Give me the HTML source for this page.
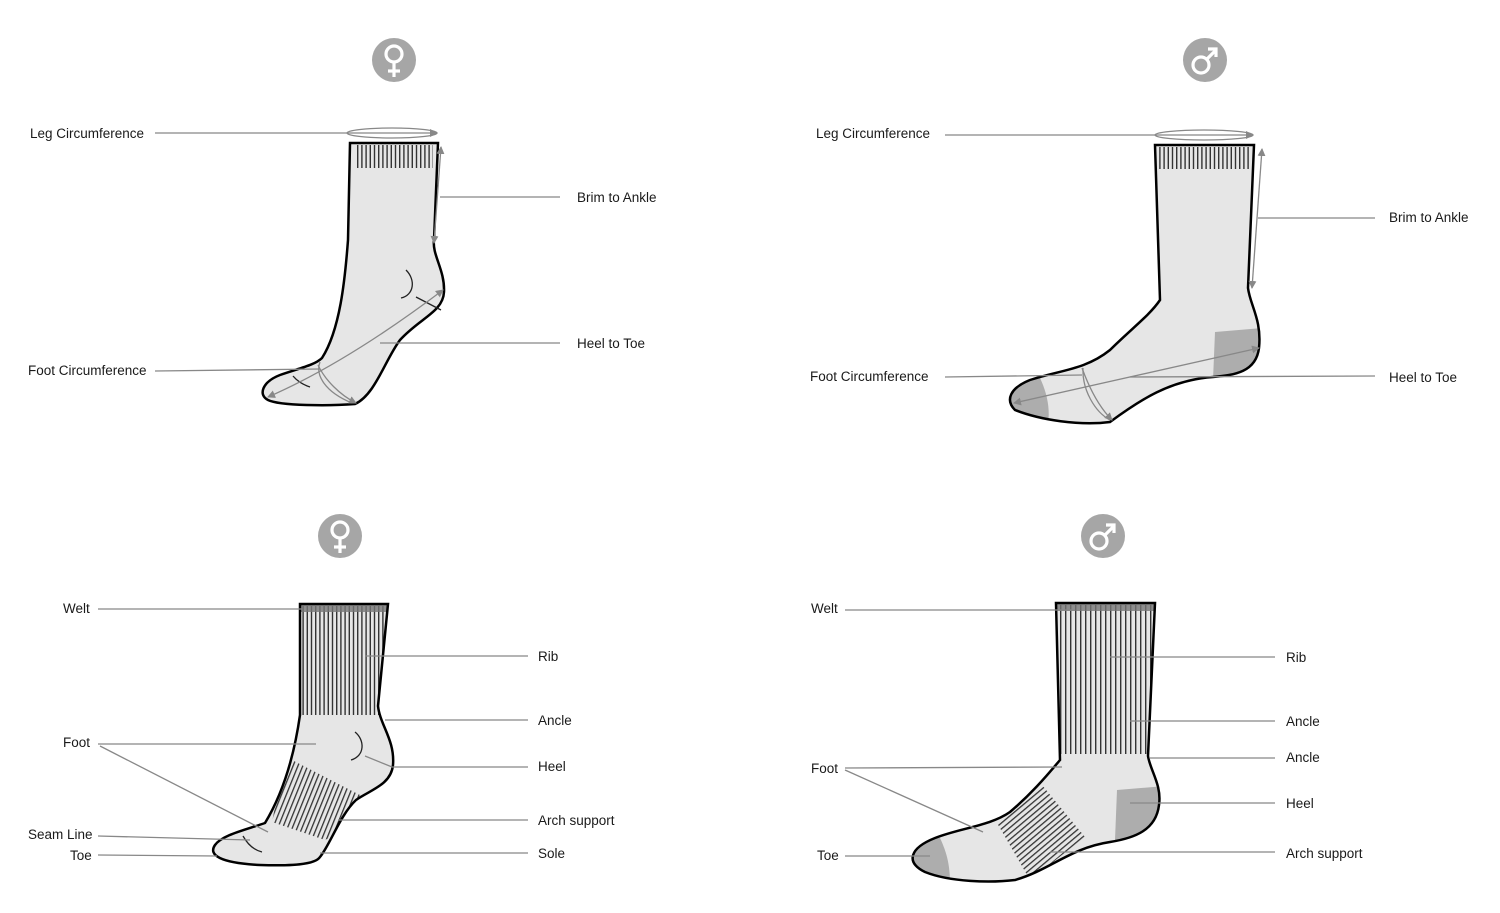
<!DOCTYPE html>
<html><head><meta charset="utf-8"><style>
html,body{margin:0;padding:0;background:#fff;}
svg{display:block;}
text{font-family:"Liberation Sans",sans-serif;font-size:13.5px;fill:#1a1a1a;}
</style></head><body>
<svg width="1500" height="913" viewBox="0 0 1500 913" xmlns="http://www.w3.org/2000/svg">
<defs>
<pattern id="rib" patternUnits="userSpaceOnUse" width="4.2" height="10"><rect x="0" y="0" width="1.4" height="10" fill="#333"/></pattern>
<pattern id="rib2" patternUnits="userSpaceOnUse" width="5" height="10"><rect x="0" y="0" width="1.4" height="10" fill="#333"/></pattern>
<pattern id="arch1" patternUnits="userSpaceOnUse" width="4.5" height="10" patternTransform="rotate(22)"><rect x="0" y="0" width="1.3" height="10" fill="#333"/></pattern>
<pattern id="arch2" patternUnits="userSpaceOnUse" width="4.5" height="10" patternTransform="rotate(50)"><rect x="0" y="0" width="1.3" height="10" fill="#333"/></pattern>
<marker id="ah" markerWidth="8" markerHeight="8" refX="7" refY="4" orient="auto-start-reverse" markerUnits="userSpaceOnUse"><path d="M0,0 L8,4 L0,8 Z" fill="#888"/></marker>
<clipPath id="c1"><path d="M350,143 L438,143 L434,240 C432,255 445,270 444,292 C443,312 420,318 400,340 C385,360 375,395 355,404 C330,406 280,406 268,400 C258,395 262,382 280,375 C300,368 315,365 322,358 C340,330 345,280 348,240 Z"/></clipPath>
<clipPath id="c2"><path d="M1155,145 L1254,145 L1248,288 C1250,305 1262,320 1259,348 C1256,372 1235,375 1213,377 C1170,380 1140,400 1110,422 C1080,426 1040,420 1015,410 C1005,400 1010,388 1030,380 C1060,370 1085,370 1110,350 C1130,330 1150,315 1160,300 Z"/></clipPath>
<clipPath id="c3"><path d="M300,604 L388,604 L378,706 C380,725 395,740 393,765 C391,785 370,790 356,800 C340,815 330,845 320,857 C315,865 290,866 260,865 C220,863 208,855 215,845 C222,835 245,830 265,823 C285,790 295,750 300,715 Z"/></clipPath>
<clipPath id="c4"><path d="M1056,603 L1155,603 L1148,756 C1150,770 1162,785 1159,805 C1156,830 1135,838 1110,842 C1070,848 1050,870 1015,880 C990,883 950,882 925,872 C905,862 910,848 935,838 C960,828 990,826 1010,812 C1030,795 1045,778 1060,760 Z"/></clipPath>
</defs>

<g fill="#a6a6a6"><circle cx="394" cy="60" r="22"/><circle cx="1205" cy="60" r="22"/><circle cx="340" cy="536" r="22"/><circle cx="1103" cy="536" r="22"/></g>
<g stroke="#fff" stroke-width="3.2" fill="none">
<circle cx="394" cy="54" r="8"/><line x1="394" y1="62" x2="394" y2="77"/><line x1="388" y1="71" x2="400" y2="71"/>
<circle cx="340" cy="530" r="8"/><line x1="340" y1="538" x2="340" y2="553"/><line x1="334" y1="547" x2="346" y2="547"/>
<circle cx="1201" cy="65" r="8"/><line x1="1207" y1="59" x2="1216" y2="50"/><polyline points="1208,49 1216,49 1216,57"/>
<circle cx="1099" cy="541" r="8"/><line x1="1105" y1="535" x2="1114" y2="526"/><polyline points="1106,525 1114,525 1114,533"/>
</g>

<!-- Sock 1 -->
<path d="M350,143 L438,143 L434,240 C432,255 445,270 444,292 C443,312 420,318 400,340 C385,360 375,395 355,404 C330,406 280,406 268,400 C258,395 262,382 280,375 C300,368 315,365 322,358 C340,330 345,280 348,240 Z" fill="#e6e6e6"/>
<rect x="355" y="145" width="78" height="23" fill="url(#rib)" clip-path="url(#c1)"/>
<path d="M350,143 L438,143 L434,240 C432,255 445,270 444,292 C443,312 420,318 400,340 C385,360 375,395 355,404 C330,406 280,406 268,400 C258,395 262,382 280,375 C300,368 315,365 322,358 C340,330 345,280 348,240 Z" fill="none" stroke="#000" stroke-width="2.5"/>
<g stroke="#222" stroke-width="1.3" fill="none"><path d="M406,270 C416,280 414,295 401,298"/><path d="M293,376 C298,382 304,385 310,387"/><line x1="416" y1="297" x2="441" y2="310"/></g>
<g stroke="#888" stroke-width="1.3" fill="none">
<ellipse cx="392" cy="133" rx="45" ry="5"/>
<line x1="155" y1="133" x2="437" y2="133" marker-end="url(#ah)"/>
<line x1="441" y1="147" x2="434" y2="243" marker-start="url(#ah)" marker-end="url(#ah)"/>
<line x1="440" y1="197" x2="560" y2="197"/>
<path d="M268,397 C330,370 390,330 443,290" marker-start="url(#ah)" marker-end="url(#ah)"/>
<line x1="380" y1="343" x2="560" y2="343"/>
<path d="M318,365 C325,380 340,395 356,403" marker-end="url(#ah)"/><path d="M320,362 C315,375 325,392 352,403"/>
<line x1="155" y1="371" x2="320" y2="369"/>
</g>
<text x="30" y="138">Leg Circumference</text>
<text x="577" y="202">Brim to Ankle</text>
<text x="577" y="348">Heel to Toe</text>
<text x="28" y="375">Foot Circumference</text>

<!-- Sock 2 -->
<path d="M1155,145 L1254,145 L1248,288 C1250,305 1262,320 1259,348 C1256,372 1235,375 1213,377 C1170,380 1140,400 1110,422 C1080,426 1040,420 1015,410 C1005,400 1010,388 1030,380 C1060,370 1085,370 1110,350 C1130,330 1150,315 1160,300 Z" fill="#e6e6e6"/>
<g clip-path="url(#c2)">
<rect x="1158" y="147" width="93" height="22" fill="url(#rib)"/>
<path d="M1215,332 L1262,328 L1262,380 L1213,380 Z" fill="#adadad"/>
<path d="M1000,370 L1040,378 C1048,395 1050,410 1048,425 L1000,425 Z" fill="#adadad"/>
</g>
<path d="M1155,145 L1254,145 L1248,288 C1250,305 1262,320 1259,348 C1256,372 1235,375 1213,377 C1170,380 1140,400 1110,422 C1080,426 1040,420 1015,410 C1005,400 1010,388 1030,380 C1060,370 1085,370 1110,350 C1130,330 1150,315 1160,300 Z" fill="none" stroke="#000" stroke-width="2.5"/>
<g stroke="#888" stroke-width="1.3" fill="none">
<ellipse cx="1204" cy="135" rx="49" ry="5"/>
<line x1="945" y1="135" x2="1253" y2="135" marker-end="url(#ah)"/>
<line x1="1262" y1="149" x2="1252" y2="288" marker-start="url(#ah)" marker-end="url(#ah)"/>
<line x1="1258" y1="218" x2="1375" y2="218"/>
<line x1="1014" y1="403" x2="1259" y2="348" marker-start="url(#ah)" marker-end="url(#ah)"/>
<line x1="1130" y1="377" x2="1375" y2="376"/>
<path d="M1082,368 C1090,390 1100,408 1112,420" marker-end="url(#ah)"/><path d="M1083,368 C1082,390 1095,412 1110,420"/>
<line x1="945" y1="377" x2="1082" y2="375"/>
</g>
<text x="816" y="138">Leg Circumference</text>
<text x="1389" y="222">Brim to Ankle</text>
<text x="1389" y="382">Heel to Toe</text>
<text x="810" y="381">Foot Circumference</text>

<!-- Sock 3 -->
<path d="M300,604 L388,604 L378,706 C380,725 395,740 393,765 C391,785 370,790 356,800 C340,815 330,845 320,857 C315,865 290,866 260,865 C220,863 208,855 215,845 C222,835 245,830 265,823 C285,790 295,750 300,715 Z" fill="#e6e6e6"/>
<g clip-path="url(#c3)">
<rect x="300" y="606" width="88" height="109" fill="url(#rib)"/>
<rect x="300" y="604" width="88" height="8" fill="#777" opacity="0.8"/>
<path d="M285,757 L292,760 L360,795 L345,830 L325,840 L272,822 Z" fill="url(#arch1)"/>
</g>
<path d="M300,604 L388,604 L378,706 C380,725 395,740 393,765 C391,785 370,790 356,800 C340,815 330,845 320,857 C315,865 290,866 260,865 C220,863 208,855 215,845 C222,835 245,830 265,823 C285,790 295,750 300,715 Z" fill="none" stroke="#000" stroke-width="2.5"/>
<g stroke="#222" stroke-width="1.3" fill="none"><path d="M355,732 C365,740 365,756 351,760"/><path d="M243,836 C248,845 254,850 262,852"/></g>
<g stroke="#888" stroke-width="1.3" fill="none">
<line x1="98" y1="609" x2="302" y2="609"/>
<line x1="365" y1="656" x2="528" y2="656"/>
<line x1="385" y1="720" x2="528" y2="720"/>
<polyline points="365,756 392,767 528,767"/>
<line x1="338" y1="820" x2="528" y2="820"/>
<line x1="320" y1="853" x2="528" y2="853"/>
<line x1="98" y1="744" x2="316" y2="744"/>
<line x1="100" y1="746" x2="268" y2="832"/>
<line x1="98" y1="836" x2="250" y2="840"/>
<line x1="98" y1="855" x2="217" y2="856"/>
</g>
<text x="63" y="613">Welt</text>
<text x="538" y="661">Rib</text>
<text x="538" y="725">Ancle</text>
<text x="538" y="771">Heel</text>
<text x="538" y="825">Arch support</text>
<text x="538" y="858">Sole</text>
<text x="63" y="747">Foot</text>
<text x="28" y="839">Seam Line</text>
<text x="70" y="860">Toe</text>

<!-- Sock 4 -->
<path d="M1056,603 L1155,603 L1148,756 C1150,770 1162,785 1159,805 C1156,830 1135,838 1110,842 C1070,848 1050,870 1015,880 C990,883 950,882 925,872 C905,862 910,848 935,838 C960,828 990,826 1010,812 C1030,795 1045,778 1060,760 Z" fill="#e6e6e6"/>
<g clip-path="url(#c4)">
<rect x="1058" y="605" width="96" height="149" fill="url(#rib2)"/>
<rect x="1056" y="603" width="100" height="8" fill="#777" opacity="0.8"/>
<path d="M1117,790 L1165,786 L1165,840 L1115,840 Z" fill="#adadad"/>
<path d="M900,830 L940,838 C948,855 950,868 950,885 L900,885 Z" fill="#adadad"/>
<path d="M1042,785 L1085,837 L1030,880 L997,823 Z" fill="url(#arch2)"/>
</g>
<path d="M1056,603 L1155,603 L1148,756 C1150,770 1162,785 1159,805 C1156,830 1135,838 1110,842 C1070,848 1050,870 1015,880 C990,883 950,882 925,872 C905,862 910,848 935,838 C960,828 990,826 1010,812 C1030,795 1045,778 1060,760 Z" fill="none" stroke="#000" stroke-width="2.5"/>
<g stroke="#888" stroke-width="1.3" fill="none">
<line x1="845" y1="610" x2="1075" y2="610"/>
<line x1="1110" y1="657" x2="1275" y2="657"/>
<line x1="1130" y1="721" x2="1275" y2="721"/>
<line x1="1150" y1="758" x2="1275" y2="758"/>
<line x1="1130" y1="803" x2="1275" y2="803"/>
<line x1="1050" y1="852" x2="1275" y2="852"/>
<line x1="845" y1="768" x2="1062" y2="767"/>
<line x1="845" y1="770" x2="983" y2="832"/>
<line x1="845" y1="856" x2="930" y2="856"/>
</g>
<text x="811" y="613">Welt</text>
<text x="1286" y="662">Rib</text>
<text x="1286" y="726">Ancle</text>
<text x="1286" y="762">Ancle</text>
<text x="1286" y="808">Heel</text>
<text x="1286" y="858">Arch support</text>
<text x="811" y="773">Foot</text>
<text x="817" y="860">Toe</text>
</svg>
</body></html>
